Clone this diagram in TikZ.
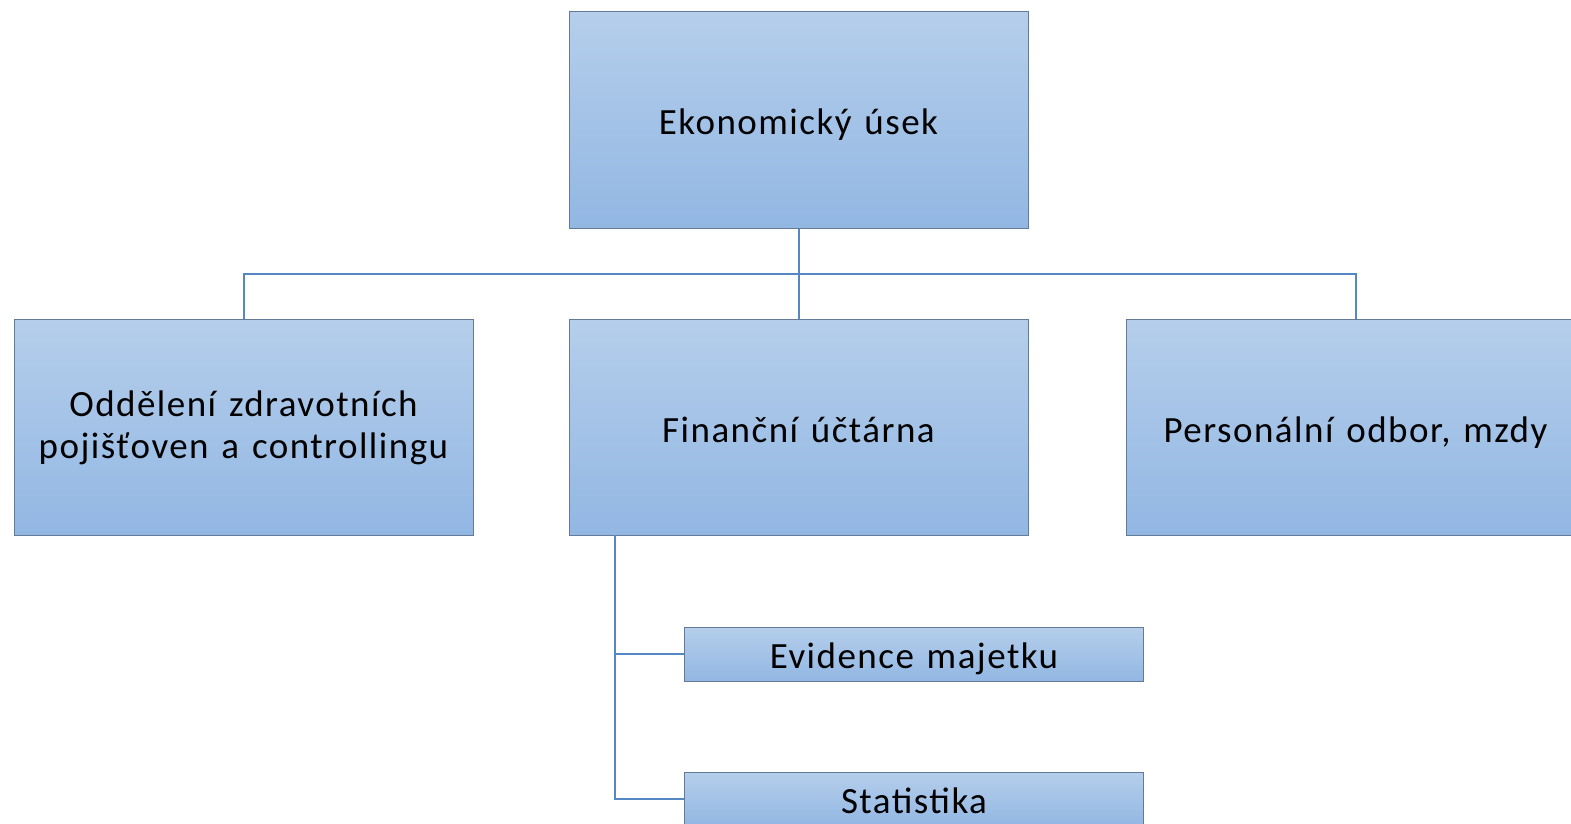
\documentclass[tikz,border=0pt]{standalone}
\usepackage{fontspec}
\setmainfont{Carlito}[LetterSpace=4,WordSpace=1.3]
\definecolor{boxtop}{RGB}{181,206,235}
\definecolor{boxbot}{RGB}{146,183,227}
\definecolor{boxline}{RGB}{100,122,150}
\definecolor{conn}{RGB}{84,135,195}
\tikzset{
  orgbox/.style={draw=boxline, line width=1pt, top color=boxtop, bottom color=boxbot,
    minimum width=459pt, minimum height=216pt, inner sep=0pt, align=center,
    font=\fontsize{37}{42}\selectfont},
  oneline/.style={orgbox, text height=29pt, text depth=0pt},
  subbox/.style={oneline, minimum height=54pt},
  conline/.style={draw=conn, line width=2pt}
}
\begin{document}
\begin{tikzpicture}[x=1pt,y=-1pt]
\path[use as bounding box] (0,0) rectangle (1571,824);
\clip (0,0) rectangle (1571,824);
\node[oneline] (top) at (798.5,120) {Ekonomický úsek};
\node[orgbox] (left) at (243.5,427.5) {Oddělení zdravotních\\pojišťoven a controllingu};
\node[oneline] (mid) at (798.5,427.5) {Finanční účtárna};
\node[oneline] (right) at (1355.5,427.5) {Personální odbor, mzdy};
\node[subbox] (ev) at (914,654) {Evidence majetku};
\node[subbox] (st) at (914,799) {Statistika};
\coordinate (j) at (798.5,274);
\coordinate (s) at (615,535);
\draw[conline] (top.south) -- (mid.north);
\draw[conline] (left.north) |- (j) -| (right.north);
\draw[conline] (s) |- (ev.west);
\draw[conline] (s) |- (st.west);
\end{tikzpicture}
\end{document}
